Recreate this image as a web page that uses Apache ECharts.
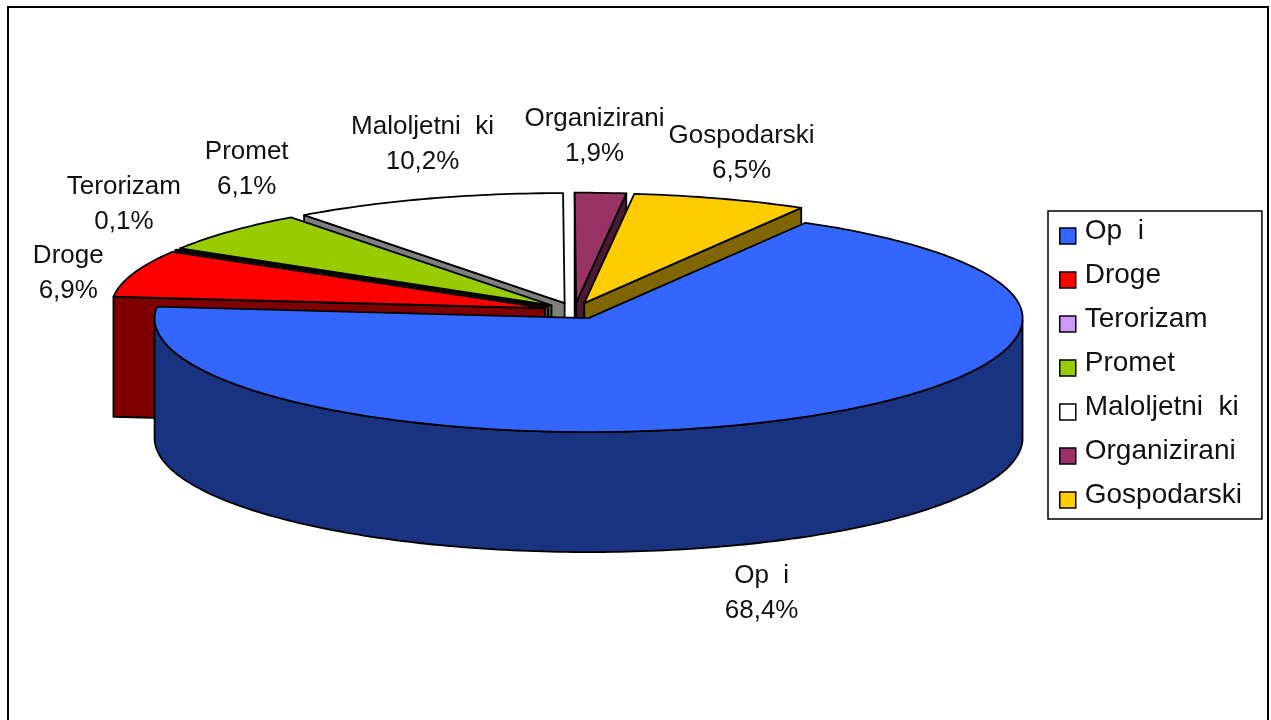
<!DOCTYPE html>
<html>
<head>
<meta charset="utf-8">
<style>
  html, body { margin: 0; padding: 0; background: #fff; }
  #chart { width: 1271px; height: 720px; }
</style>
<script src="https://cdn.jsdelivr.net/npm/echarts@6/dist/echarts.min.js"></script>
</head>
<body>
<div id="chart"></div>
<script>
const categories = ['Op  i', 'Droge', 'Terorizam', 'Promet', 'Maloljetni  ki', 'Organizirani', 'Gospodarski'];
const shares = [68.4, 6.9, 0.1, 6.1, 10.2, 1.9, 6.5];
const topColors = ['#3366FF', '#FF0000', '#CC99FF', '#99CC00', '#FFFFFF', '#993366', '#FFCC00'];
const sideColors = ['#1A3380', '#800000', '#664C80', '#4C6600', '#808080', '#4C1933', '#806600'];
// label offset from the slice's rim point, px
const labelOffsets = [[-24, 174], [-65, 0], [-52, -46], [17, -62], [-4, -54], [-6, -57], [21, -45]];

// pie projection, the back half is a bit flatter because of the perspective
const center = [574.5, 310.8];
const rx = 434;
const ryFront = 114;
const ryBack = 110;
const depth = 120;
const explode = 31;
const startAngle = 30;

const total = shares.reduce((a, b) => a + b, 0);
const FONT = 'Liberation Sans, Arial, sans-serif';

function rimPoint(c, deg) {
  const r = deg * Math.PI / 180;
  const ry = Math.cos(r) > 0 ? ryBack : ryFront;
  return [c[0] + rx * Math.sin(r), c[1] - ry * Math.cos(r)];
}

function down(p) {
  return [p[0], p[1] + depth];
}

function sliceStart(index) {
  let from = startAngle;
  for (let i = 0; i < index; i++) from += shares[i] / total * 360;
  return from;
}

function sliceCenter(mid) {
  const r = mid * Math.PI / 180;
  return [
    center[0] + explode * Math.sin(r),
    center[1] - explode * ryFront / rx * Math.cos(r)
  ];
}

function polygon(points, fill, z2) {
  return {
    type: 'polygon',
    z2,
    shape: { points },
    style: { fill, stroke: '#000', lineWidth: 1.8, lineJoin: 'round' }
  };
}

function renderSlice(index, value) {
  const from = sliceStart(index);
  const to = from + value / total * 360;
  const mid = (from + to) / 2;
  const c = sliceCenter(mid);
  const steps = Math.max(2, Math.ceil(to - from));
  const arc = [];
  for (let i = 0; i <= steps; i++) {
    arc.push(rimPoint(c, from + (to - from) * i / steps));
  }
  const first = arc[0];
  const last = arc[arc.length - 1];
  const children = [];

  // cut faces, only the ones turned to the viewer
  if (Math.sin(from * Math.PI / 180) < 0) {
    children.push(polygon([c, first, down(first), down(c)], sideColors[index], 1));
  }
  if (Math.sin(to * Math.PI / 180) > 0) {
    children.push(polygon([c, last, down(last), down(c)], sideColors[index], 1));
  }

  // outer wall, only the part of the rim that faces the viewer
  const front = arc.filter((p) => p[1] >= c[1]);
  if (front.length > 1) {
    children.push(polygon(front.concat(front.map(down).reverse()), sideColors[index], 2));
  }

  // top
  children.push(polygon([c].concat(arc), topColors[index], 3));

  const rim = rimPoint(c, mid);
  children.push({
    type: 'text',
    z2: 4,
    style: {
      x: rim[0] + labelOffsets[index][0],
      y: rim[1] + labelOffsets[index][1],
      text: categories[index] + '\n' + value.toFixed(1).replace('.', ',') + '%',
      fill: '#111',
      font: '26px ' + FONT,
      lineHeight: 35,
      align: 'center',
      verticalAlign: 'middle'
    }
  });
  return { type: 'group', children };
}

// back slices first, so the front ones cover them
function sliceDepth(index) {
  const mid = sliceStart(index) + shares[index] / total * 180;
  return 10 - Math.cos(mid * Math.PI / 180) * 5;
}

const series = categories.map((name, index) => ({
  type: 'custom',
  name,
  coordinateSystem: 'none',
  silent: true,
  z: sliceDepth(index),
  itemStyle: { color: topColors[index] },
  data: [[shares[index]]],
  renderItem: (params, api) => renderSlice(index, api.value(0))
}));

const chart = echarts.init(document.getElementById('chart'), null, { renderer: 'canvas' });
chart.setOption({
  animation: false,
  backgroundColor: '#fff',
  graphic: [{
    type: 'rect',
    shape: { x: 8, y: 7, width: 1260, height: 730 },
    style: { fill: 'none', stroke: '#000', lineWidth: 2 },
    z: 0
  }],
  legend: {
    orient: 'vertical',
    left: 1048,
    top: 211,
    padding: [6, 20, 10, 11],
    itemWidth: 16,
    itemHeight: 16,
    itemGap: 16,
    icon: 'rect',
    selectedMode: false,
    borderColor: '#000',
    borderWidth: 1.5,
    itemStyle: { borderColor: '#000', borderWidth: 1.5 },
    // rich padding lifts the text above the swatch
    formatter: (name) => '{t|' + name + '}',
    textStyle: {
      rich: {
        t: { fontFamily: FONT, fontSize: 28, color: '#111', padding: [0, 0, 10, 4] }
      }
    },
    data: categories
  },
  series
});
</script>
</body>
</html>
